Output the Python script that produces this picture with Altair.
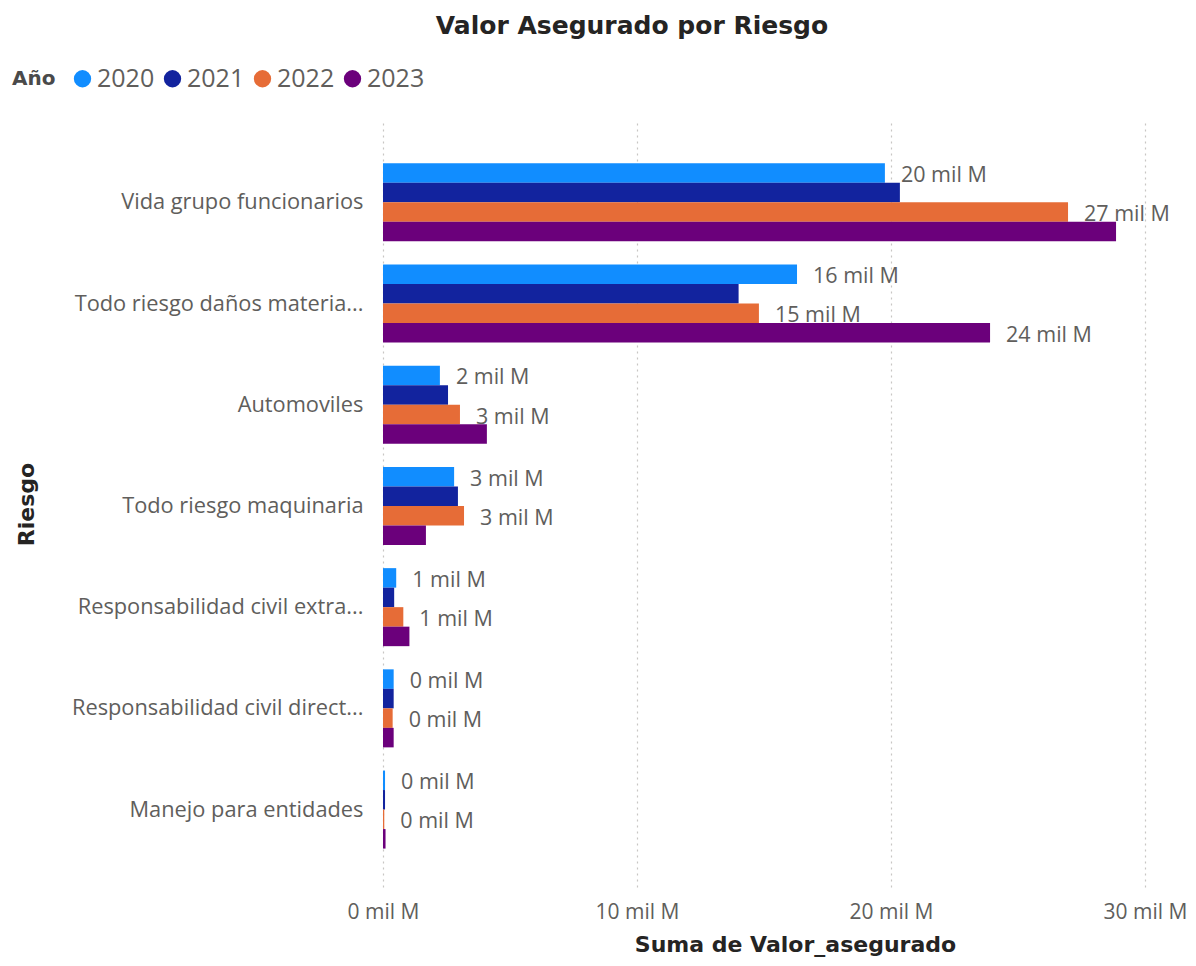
import altair as alt
import pandas as pd

RIESGOS = [
    "Vida grupo funcionarios",
    "Todo riesgo daños materia...",
    "Automoviles",
    "Todo riesgo maquinaria",
    "Responsabilidad civil extra...",
    "Responsabilidad civil direct...",
    "Manejo para entidades",
]
ANIOS = ["2020", "2021", "2022", "2023"]
COLORES = ["#118DFF", "#12239E", "#E66C37", "#6B007B"]

# Suma de Valor_asegurado, en mil M
V2020 = [19.76, 16.3, 2.24, 2.80, 0.52, 0.42, 0.08]
V2021 = [20.35, 14.0, 2.56, 2.95, 0.44, 0.42, 0.08]
V2022 = [26.97, 14.8, 3.03, 3.19, 0.80, 0.38, 0.05]
V2023 = [28.86, 23.9, 4.09, 1.69, 1.04, 0.42, 0.10]

# Etiquetas de datos visibles
L2020 = ["20 mil M", "16 mil M", "2 mil M", "3 mil M", "1 mil M", "0 mil M", "0 mil M"]
L2021 = ["", "", "", "", "", "", ""]
L2022 = ["27 mil M", "15 mil M", "3 mil M", "3 mil M", "1 mil M", "0 mil M", "0 mil M"]
L2023 = ["", "24 mil M", "", "", "", "", ""]

X_TICKS = [0, 10, 20, 30]

rows = []
for anio, vals, labs in zip(ANIOS, [V2020, V2021, V2022, V2023], [L2020, L2021, L2022, L2023]):
    for r, v, l in zip(RIESGOS, vals, labs):
        rows.append({"Riesgo": r, "Año": anio, "valor": v, "label": l})
df = pd.DataFrame(rows)

GRAY = "#605E5C"
DARK = "#252423"
BODY_FONT = "Open Sans"
HEAD_FONT = "DejaVu Sans"

y_enc = alt.Y(
    "Riesgo:N",
    sort=RIESGOS,
    scale=alt.Scale(paddingInner=0.229, paddingOuter=0.404, align=0.53),
    axis=alt.Axis(
        title="Riesgo",
        titleFont=HEAD_FONT,
        titleFontSize=22,
        titleFontWeight="bold",
        titleColor=DARK,
        titleAngle=270,
        titleAlign="center",
        titleBaseline="bottom",
        titleX=-345,
        titleY=384,
        labelFont=BODY_FONT,
        labelFontSize=21.8,
        labelColor=GRAY,
        labelPadding=20,
        labelLimit=400,
        domain=False,
        ticks=False,
        grid=False,
    ),
)
yoff_enc = alt.YOffset("Año:N", sort=ANIOS, scale=alt.Scale(paddingInner=0, paddingOuter=0))
x_enc = alt.X(
    "valor:Q",
    scale=alt.Scale(domain=[0, 30], nice=False),
    axis=alt.Axis(
        title="Suma de Valor_asegurado",
        titleFont=HEAD_FONT,
        titleFontSize=22,
        titleFontWeight="bold",
        titleColor=DARK,
        titleX=412,
        titleY=57,
        titleBaseline="middle",
        titleAlign="center",
        values=X_TICKS,
        labelExpr="datum.value + ' mil M'",
        labelFont=BODY_FONT,
        labelFontSize=21,
        labelColor=GRAY,
        labelPadding=14,
        labelFlush=False,
        domain=False,
        ticks=False,
        grid=True,
        gridColor="#C8C6C4",
        gridDash=[2, 4],
        gridWidth=1.2,
    ),
)
color_enc = alt.Color(
    "Año:N",
    sort=ANIOS,
    scale=alt.Scale(domain=ANIOS, range=COLORES),
    legend=alt.Legend(
        orient="none",
        legendX=-371,
        legendY=-54,
        direction="horizontal",
        title="Año",
        titleOrient="left",
        titleFont=HEAD_FONT,
        titleFontSize=20,
        titleFontWeight="bold",
        titleColor="#4A4A4A",
        titlePadding=14,
        symbolType="circle",
        symbolSize=300,
        symbolStrokeWidth=0,
        labelFont=BODY_FONT,
        labelFontSize=25,
        labelColor=GRAY,
        labelOffset=2,
        columnPadding=5,
    ),
)

bars = alt.Chart(df).mark_bar().encode(
    x=x_enc, y=y_enc, yOffset=yoff_enc, color=color_enc
)
texts = alt.Chart(df).mark_text(
    align="left", baseline="middle", dx=16, dy=3,
    font=BODY_FONT, fontSize=21.5, color=GRAY,
).encode(
    x=alt.X("valor:Q"), y=alt.Y("Riesgo:N", sort=RIESGOS), yOffset=alt.YOffset("Año:N", sort=ANIOS),
    text="label:N",
)

chart = alt.layer(bars, texts).properties(
    width=762,
    height=767,
    autosize=alt.AutoSizeParams(type="none"),
    padding={"left": 375, "top": 112, "right": 43, "bottom": 78},
    title=alt.Title(
        "Valor Asegurado por Riesgo",
        font=HEAD_FONT,
        fontSize=25,
        fontWeight="bold",
        color=DARK,
        anchor="middle",
        frame="group",
        dx=-132,
        offset=27,
    ),
).configure_view(stroke=None)

chart.save("out.html", embed_options={"renderer": "svg", "actions": False})
